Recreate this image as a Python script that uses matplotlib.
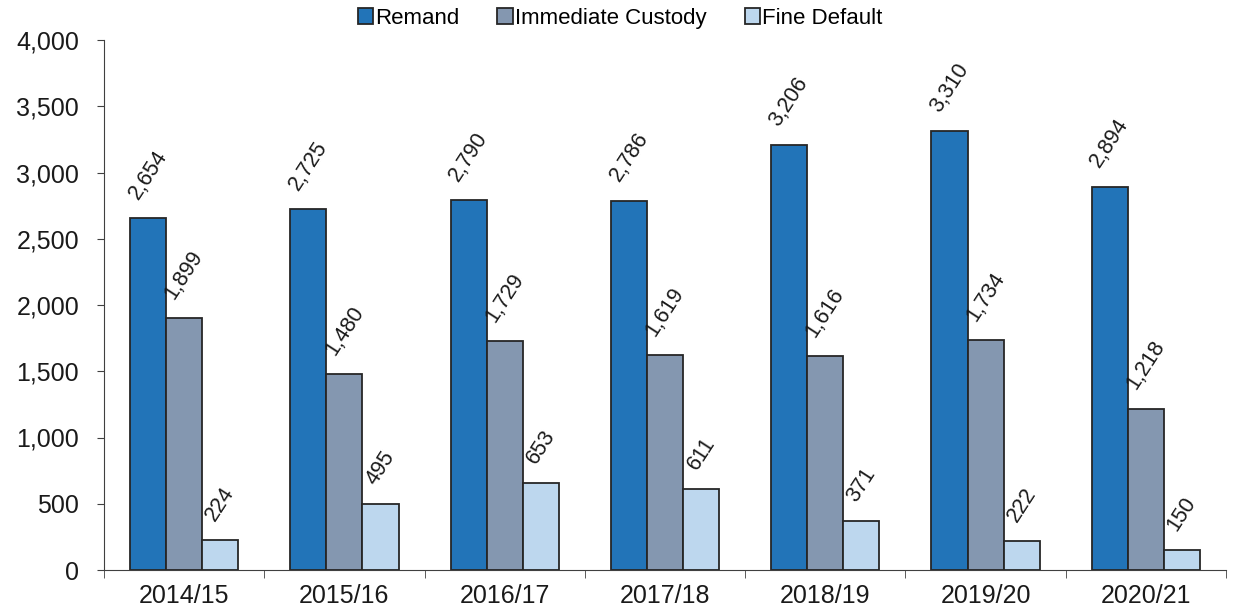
import matplotlib
matplotlib.use("Agg")
import matplotlib.pyplot as plt
import numpy as np

plt.rcParams['font.family'] = ['Liberation Sans', 'DejaVu Sans']

years = ["2014/15", "2015/16", "2016/17", "2017/18", "2018/19", "2019/20", "2020/21"]
remand = [2654, 2725, 2790, 2786, 3206, 3310, 2894]
immediate = [1899, 1480, 1729, 1619, 1616, 1734, 1218]
fine_default = [224, 495, 653, 611, 371, 222, 150]
series_names = ["Remand", "Immediate Custody", "Fine Default"]
colors = ["#2274B8", "#8497B0", "#BDD7EE"]

fig = plt.figure(figsize=(12.33, 6.13), dpi=100)
ax = fig.add_axes([104/1233, 1-570/613, (1226-104)/1233, (570-40)/613])

x = np.arange(len(years))
w = 0.225
for i, (vals, name, c) in enumerate(zip([remand, immediate, fine_default], series_names, colors)):
    bars = ax.bar(x + (i-1)*w, vals, width=w, color=c, edgecolor="#262626", linewidth=1.3, label=name)
    for b, v in zip(bars, vals):
        ax.annotate(f"{v:,}", (b.get_x()+b.get_width()/2, b.get_height()),
                    xytext=(0, 11), textcoords="offset points",
                    ha="center", va="bottom", rotation=57, fontsize=15.5, color="#1a1a1a")

ax.set_xlim(-0.5, len(years)-0.5)
ax.set_ylim(0, 4000)
ax.set_yticks(np.arange(0, 4001, 500))
ax.set_yticklabels([f"{v:,}" for v in range(0, 4001, 500)], fontsize=18, color="#1a1a1a")
ax.set_xticks(x)
ax.set_xticklabels(years, fontsize=18, color="#1a1a1a")
ax.tick_params(axis='x', length=0, pad=10)
ax.set_xticks(np.arange(-0.5, len(years), 1), minor=True)
ax.tick_params(axis='x', which='minor', length=6, direction='out', color="#404040")
ax.tick_params(axis='y', length=5, direction='out', color="#404040", pad=13)
for s in ["top", "right"]:
    ax.spines[s].set_visible(False)
ax.spines["left"].set_color("#404040")
ax.spines["bottom"].set_color("#404040")

fig.legend(loc="center", bbox_to_anchor=(0.503, 0.97), ncol=3, frameon=False,
           fontsize=16, handlelength=0.7, handleheight=0.7, handletextpad=0.1, columnspacing=1.7)

fig.savefig("out.png", dpi=100)
